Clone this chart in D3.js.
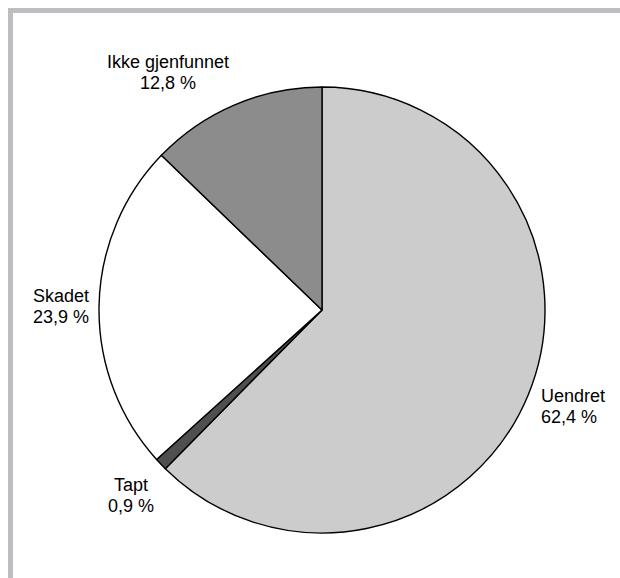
<!DOCTYPE html>
<html>
<head>
<meta charset="utf-8">
<script src="https://cdn.jsdelivr.net/npm/d3@7"></script>
<style>
  body { margin: 0; background: #fff; }
  svg { display: block; }
  text { font-family: "Liberation Sans", Arial, sans-serif; font-size: 18px; fill: #000; }
</style>
</head>
<body>
<svg id="pie" width="620" height="578"></svg>
<script>
// slices, clockwise from 12 o'clock
const categories = ["Uendret", "Tapt", "Skadet", "Ikke gjenfunnet"];
const shares = [62.4, 0.9, 23.9, 12.8];
const shareLabels = ["62,4 %", "0,9 %", "23,9 %", "12,8 %"];
const sliceColors = ["#cccccc", "#4f4f4f", "#ffffff", "#8c8c8c"];

// label placement: nudge from the mid-angle point just outside the rim
const labelShift = [[3.5, 3.5], [-22.7, 19.9], [-56, -4.3], [-62.8, -27.6]];
const labelAnchor = ["start", "middle", "start", "middle"];

const svg = d3.select("#pie");
const width = 620;
const height = 578;
const cx = 322;
const cy = 310;
const radius = 223;

// frame bars top and left
svg.append("rect").attr("x", 8).attr("y", 8).attr("width", width - 8).attr("height", 5).attr("fill", "#bdbec2");
svg.append("rect").attr("x", 8).attr("y", 8).attr("width", 5).attr("height", height - 8).attr("fill", "#bdbec2");

const data = categories.map((c, i) => ({ name: c, value: shares[i], label: shareLabels[i], color: sliceColors[i], idx: i }));

const pie = d3.pie().sort(null).value((d) => d.value);
const arc = d3.arc().innerRadius(0).outerRadius(radius);
const labelArc = d3.arc().innerRadius(radius + 10).outerRadius(radius + 10);

const g = svg.append("g").attr("transform", `translate(${cx},${cy})`);
const arcs = pie(data);

g.selectAll("path")
  .data(arcs)
  .enter()
  .append("path")
  .attr("d", arc)
  .attr("fill", (d) => d.data.color)
  .attr("stroke", "#000")
  .attr("stroke-width", 1.4)
  .attr("stroke-linejoin", "round");

const labels = g.selectAll("text.lbl")
  .data(arcs)
  .enter()
  .append("text")
  .attr("class", "lbl")
  .attr("text-anchor", (d) => labelAnchor[d.data.idx])
  .attr("transform", (d) => {
    const [x, y] = labelArc.centroid(d);
    const s = labelShift[d.data.idx];
    return `translate(${x + s[0]},${y + s[1]})`;
  });

labels.append("tspan").attr("x", 0).attr("y", 0).text((d) => d.data.name);
labels.append("tspan").attr("x", 0).attr("y", 21).text((d) => d.data.label);
</script>
</body>
</html>
